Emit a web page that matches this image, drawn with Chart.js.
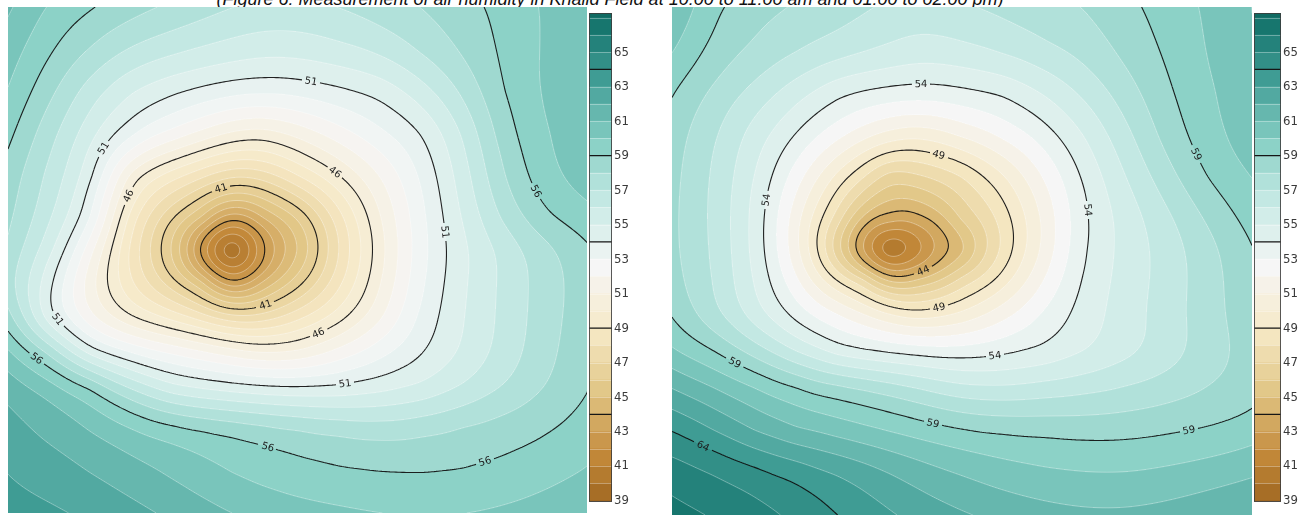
<!DOCTYPE html>
<html>
<head>
<meta charset="utf-8">
<script src="https://cdn.jsdelivr.net/npm/chart.js@4.4.1/dist/chart.umd.min.js"></script>
<style>
  html, body { margin: 0; padding: 0; background: #fff; width: 1311px; height: 515px; overflow: hidden; position: relative; }
  canvas { position: absolute; }
  #title { position: absolute; left: 0; width: 1220px; top: -11px; text-align: center; white-space: nowrap;
           font: italic 18px "Liberation Sans", Arial, sans-serif; line-height: 20px; color: #111; }
</style>
</head>
<body>
<div id="title">(Figure 6: Measurement of air humidity in Khalid Field at 10:00 to 11:00 am and 01:00 to 02:00 pm)</div>
<canvas id="fieldAm" width="579" height="506" style="left:8px;top:7px"></canvas>
<canvas id="barAm" width="52" height="515" style="left:589px;top:0px"></canvas>
<canvas id="fieldPm" width="580" height="508" style="left:672px;top:7px"></canvas>
<canvas id="barPm" width="57" height="515" style="left:1254px;top:0px"></canvas>
<script>
// ---- Morning survey (10:00-11:00): reading positions across the field (m) and relative humidity (%)
const amX = [0, 41, 83, 124, 165, 195, 224, 254, 290, 331, 372, 414, 455, 496, 538, 579];
const amY = [0, 42, 84, 127, 169, 211, 243, 275, 309, 343, 380, 422, 464, 506];
const amHumidity = [
  [58.2, 56.8, 56.1, 55.4, 54.8, 54.4, 54.0, 53.7, 53.7, 54.0, 54.5, 55.0, 55.6, 56.3, 57.1, 58.0],
  [57.5, 56.2, 55.0, 53.9, 53.3, 52.9, 52.6, 52.35, 52.4, 52.8, 53.3, 54.3, 55.2, 56.2, 57.1, 58.0],
  [57.0, 55.3, 53.4, 51.9, 51.1, 50.7, 50.4, 50.3, 50.4, 50.8, 51.2, 52.6, 54.2, 56.1, 57.1, 58.0],
  [56.3, 54.3, 52.3, 50.5, 48.9, 47.8, 46.8, 46.3, 47.3, 48.6, 49.9, 50.9, 53.0, 55.6, 56.8, 57.8],
  [55.5, 53.6, 51.6, 45.8, 44.3, 43.2, 42.1, 42.5, 44.3, 46.0, 48.0, 50.2, 52.5, 55.0, 56.6, 57.5],
  [55.2, 53.1, 50.7, 44.1, 41.1, 38.7, 36.4, 37.9, 40.2, 43.6, 47.0, 49.8, 52.1, 54.3, 56.0, 56.6],
  [54.8, 52.6, 48.25, 43.5, 39.8, 35.6, 32.5, 35.7, 39.1, 43.1, 46.6, 49.7, 51.7, 53.1, 54.5, 55.7],
  [54.3, 51.6, 47.3, 44.1, 41.4, 38.9, 36.3, 38.0, 40.6, 43.8, 47.0, 49.9, 51.9, 53.3, 54.6, 55.6],
  [55.5, 50.5, 48.0, 45.8, 44.3, 43.3, 42.3, 42.4, 43.8, 45.4, 47.6, 50.4, 52.0, 53.3, 54.6, 55.6],
  [57.2, 55.1, 50.85, 49.8, 48.8, 48.1, 47.4, 46.6, 46.8, 48.4, 49.7, 50.9, 52.1, 53.4, 54.7, 55.8],
  [58.5, 57.6, 56.4, 53.8, 51.9, 51.6, 51.3, 51.1, 51.0, 51.0, 51.5, 52.0, 53.0, 54.0, 55.0, 55.9],
  [59.3, 58.6, 57.8, 57.1, 56.5, 56.1, 55.8, 55.5, 55.2, 54.9, 54.6, 54.9, 55.3, 55.6, 55.95, 56.5],
  [59.9, 59.5, 58.9, 58.3, 57.7, 57.2, 56.8, 56.5, 56.2, 56.0, 55.95, 55.9, 55.95, 56.2, 56.6, 57.0],
  [60.5, 60.2, 59.8, 59.3, 58.8, 58.4, 58.0, 57.7, 57.4, 57.2, 57.0, 56.9, 57.0, 57.2, 57.5, 58.0]
];
const amContours = [36, 41, 46, 51, 56];

// ---- Afternoon survey (13:00-14:00)
const pmX = [0, 41, 83, 124, 166, 192, 218, 246, 290, 331, 373, 414, 456, 497, 538, 580];
const pmY = [0, 42, 85, 127, 169, 212, 243, 273, 308, 343, 381, 423, 465, 508];
const pmHumidity = [
  [61.0, 59.1, 58.3, 57.9, 57.4, 57.1, 56.8, 56.5, 56.9, 57.2, 57.6, 58.0, 58.8, 59.4, 60.2, 61.0],
  [60.2, 58.7, 57.9, 57.2, 56.6, 56.2, 55.9, 55.5, 55.8, 56.3, 56.9, 57.4, 58.4, 59.2, 60.1, 61.0],
  [59.0, 57.8, 56.7, 55.4, 54.05, 53.85, 53.7, 53.6, 53.8, 53.97, 55.1, 56.3, 57.6, 58.9, 59.8, 60.8],
  [58.5, 57.2, 55.5, 54.0, 52.5, 51.6, 50.9, 50.3, 51.5, 52.5, 53.6, 55.1, 56.8, 58.5, 59.6, 60.6],
  [58.3, 56.9, 55.0, 52.5, 49.6, 48.1, 46.7, 46.9, 48.1, 49.8, 52.2, 54.3, 56.1, 57.7, 59.2, 60.0],
  [58.2, 56.8, 54.7, 51.4, 47.4, 44.7, 43.4, 43.6, 46.1, 48.5, 51.3, 54.0, 55.4, 56.8, 58.2, 59.4],
  [58.2, 56.9, 54.7, 51.4, 46.4, 43.0, 40.5, 41.8, 44.9, 48.3, 51.3, 54.1, 55.4, 56.5, 57.7, 58.9],
  [58.4, 57.1, 55.0, 52.4, 49.0, 47.0, 44.8, 45.1, 47.3, 49.5, 52.1, 54.3, 55.4, 56.5, 57.6, 58.8],
  [58.9, 57.2, 55.3, 53.6, 52.2, 51.3, 50.4, 49.4, 50.2, 51.8, 53.4, 54.6, 55.7, 56.7, 57.7, 58.7],
  [60.0, 59.1, 57.5, 55.7, 53.98, 53.8, 53.6, 53.5, 53.4, 53.7, 54.0, 54.8, 55.6, 56.4, 57.6, 58.4],
  [62.0, 61.1, 60.2, 59.4, 58.6, 58.1, 57.6, 57.1, 56.2, 56.1, 56.5, 56.8, 57.2, 57.6, 58.1, 58.5],
  [64.0, 62.9, 61.7, 60.8, 60.4, 60.1, 59.8, 59.5, 59.1, 58.9, 58.8, 58.65, 58.7, 58.9, 59.1, 59.5],
  [65.6, 65.0, 64.4, 63.8, 63.0, 62.5, 62.0, 61.5, 60.9, 60.4, 60.1, 60.0, 60.0, 60.2, 60.5, 60.9],
  [66.2, 65.9, 65.3, 64.7, 63.9, 63.5, 63.1, 62.6, 62.1, 61.7, 61.4, 61.2, 61.2, 61.4, 61.7, 62.0]
];
const pmContours = [44, 49, 54, 59, 64];

// ---- Shared colour key
const keyMin = 38.92, keyMax = 67.27;
const keyTicks = [39, 41, 43, 45, 47, 49, 51, 53, 55, 57, 59, 61, 63, 65];
const keyContours = [44, 49, 54, 59, 64];
</script>
<script>
// Where the contour values are written (field metres), one entry per label
const amLabelSpots = [[41,213,181],[41,257,296],[46,328,163],[46,109,183],[46,310,325],
  [51,302,78],[51,99,143],[51,432,225],[51,39,321],[51,337,380],
  [56,517,190],[56,34,345],[56,259,443],[56,477,455]];
const pmLabelSpots = [[44,253,268],[49,263,158],[49,268,305],[54,248,75],[54,98,193],[54,410,203],[54,323,351],
  [59,516,151],[59,68,345],[59,261,418],[59,518,425],[64,33,433]];

// Position of a humidity value on the colour key for each map
const amShade = v => (v < 51 ? 54 + (v - 51) * 0.75 : v + 3);
const pmShade = v => v;
// Surface smoothing for the spline fit; readings in the dry core are kept almost exact
const splineSmoothing = 0.2, coreSpan = 8, coreSmoothing = 0.004;

// Brown-to-teal diverging ramp
const RAMP = [[84,48,5],[140,81,10],[191,129,45],[223,194,125],[246,232,195],[245,245,245],
              [199,234,229],[128,205,193],[53,151,143],[1,102,94],[0,60,48]];
function ramp(t) {
  t = Math.max(0, Math.min(1, t));
  const f = t * 10, i = Math.min(9, Math.floor(f)), u = f - i;
  const a = RAMP[i], b = RAMP[i + 1];
  return [0, 1, 2].map(c => Math.round(a[c] + (b[c] - a[c]) * u + (255 - (a[c] + (b[c] - a[c]) * u)) * 0.06));
}
const keyColour = k => ramp(0.1 + 0.8 * (k - 38) / 29);
const css = c => `rgb(${c[0]},${c[1]},${c[2]})`;

// Smoothing thin-plate spline through the readings
function thinPlate(xs, ys, values) {
  const S = 100, px = [], py = [], pv = [];
  ys.forEach((y, j) => xs.forEach((x, i) => { px.push(x / S); py.push(y / S); pv.push(values[j][i]); }));
  const n = px.length, m = n + 3;
  const driest = Math.min(...pv);
  const phi = r2 => (r2 > 0 ? 0.5 * r2 * Math.log(r2) : 0);
  const A = [];
  for (let i = 0; i < m; i++) A.push(new Float64Array(m + 1));
  for (let i = 0; i < n; i++) {
    for (let j = 0; j < n; j++) A[i][j] = phi((px[i] - px[j]) ** 2 + (py[i] - py[j]) ** 2);
    A[i][i] += pv[i] < driest + coreSpan ? coreSmoothing : splineSmoothing;
    A[i][n] = 1; A[i][n + 1] = px[i]; A[i][n + 2] = py[i]; A[i][m] = pv[i];
    A[n][i] = 1; A[n + 1][i] = px[i]; A[n + 2][i] = py[i];
  }
  for (let c = 0; c < m; c++) {
    let p = c;
    for (let r = c + 1; r < m; r++) if (Math.abs(A[r][c]) > Math.abs(A[p][c])) p = r;
    [A[c], A[p]] = [A[p], A[c]];
    const piv = A[c][c];
    for (let r = c + 1; r < m; r++) {
      const f = A[r][c] / piv;
      if (f === 0) continue;
      const Ar = A[r], Ac = A[c];
      for (let k = c; k <= m; k++) Ar[k] -= f * Ac[k];
    }
  }
  const sol = new Float64Array(m);
  for (let r = m - 1; r >= 0; r--) {
    let s = A[r][m];
    for (let k = r + 1; k < m; k++) s -= A[r][k] * sol[k];
    sol[r] = s / A[r][r];
  }
  return (x, y) => {
    x /= S; y /= S;
    let s = sol[n] + sol[n + 1] * x + sol[n + 2] * y;
    for (let i = 0; i < n; i++) {
      const r2 = (x - px[i]) ** 2 + (y - py[i]) ** 2;
      if (r2 > 0) s += sol[i] * 0.5 * r2 * Math.log(r2);
    }
    return s;
  };
}

// Marching squares on a sampled grid
function traceLevel(F, nx, ny, lv) {
  const segs = [];
  for (let j = 0; j < ny - 1; j++) {
    for (let i = 0; i < nx - 1; i++) {
      const a = F[j * nx + i], b = F[j * nx + i + 1], c = F[(j + 1) * nx + i + 1], d = F[(j + 1) * nx + i];
      const k = (a > lv ? 8 : 0) | (b > lv ? 4 : 0) | (c > lv ? 2 : 0) | (d > lv ? 1 : 0);
      if (k === 0 || k === 15) continue;
      const T = () => [i + (lv - a) / (b - a), j];
      const R = () => [i + 1, j + (lv - b) / (c - b)];
      const B = () => [i + (lv - d) / (c - d), j + 1];
      const L = () => [i, j + (lv - a) / (d - a)];
      const ctr = (a + b + c + d) / 4 > lv;
      switch (k) {
        case 1: case 14: segs.push([L(), B()]); break;
        case 2: case 13: segs.push([B(), R()]); break;
        case 3: case 12: segs.push([L(), R()]); break;
        case 4: case 11: segs.push([T(), R()]); break;
        case 6: case 9: segs.push([T(), B()]); break;
        case 7: case 8: segs.push([L(), T()]); break;
        case 5: if (ctr) { segs.push([L(), T()]); segs.push([B(), R()]); } else { segs.push([T(), R()]); segs.push([L(), B()]); } break;
        case 10: if (ctr) { segs.push([T(), R()]); segs.push([L(), B()]); } else { segs.push([L(), T()]); segs.push([B(), R()]); } break;
      }
    }
  }
  return segs;
}

function humidityMap(p) {
  const step = 2;
  let grid = null;
  function sample(chart) {
    if (grid) return grid;
    const { chartArea: ca, scales: { x: sx, y: sy } } = chart;
    const W = ca.right - ca.left, H = ca.bottom - ca.top;
    const nx = Math.ceil(W / step) + 1, ny = Math.ceil(H / step) + 1;
    const F = new Float32Array(nx * ny);
    let lo = Infinity, hi = -Infinity;
    for (let j = 0; j < ny; j++) {
      const dy = sy.getValueForPixel(ca.top + j * step);
      for (let i = 0; i < nx; i++) {
        const v = p.surface(sx.getValueForPixel(ca.left + i * step), dy);
        F[j * nx + i] = v; lo = Math.min(lo, v); hi = Math.max(hi, v);
      }
    }
    grid = { F, nx, ny, W, H, lo, hi };
    return grid;
  }
  const bandCache = {};
  const bandColour = b => bandCache[b] || (bandCache[b] = keyColour(p.shade(b + 0.5)));
  return {
    id: 'humidityMap',
    beforeDatasetsDraw(chart) {
      const { ctx, chartArea: ca } = chart;
      const { F, nx, W, H } = sample(chart);
      const Wp = Math.round(W), Hp = Math.round(H);
      const img = ctx.createImageData(Wp, Hp);
      const d = img.data;
      for (let py = 0; py < Hp; py++) {
        const fy = (py + 0.5) / step, j = Math.floor(fy), v = fy - j;
        for (let px = 0; px < Wp; px++) {
          const fx = (px + 0.5) / step, i = Math.floor(fx), u = fx - i;
          const o0 = j * nx + i, o1 = o0 + nx;
          const val = (F[o0] * (1 - u) + F[o0 + 1] * u) * (1 - v) + (F[o1] * (1 - u) + F[o1 + 1] * u) * v;
          const c = bandColour(Math.floor(val));
          const o = (py * Wp + px) * 4;
          d[o] = c[0]; d[o + 1] = c[1]; d[o + 2] = c[2]; d[o + 3] = 255;
        }
      }
      ctx.putImageData(img, ca.left, ca.top);
    },
    afterDatasetsDraw(chart) {
      const { ctx, chartArea: ca, scales: { x: sx, y: sy } } = chart;
      const { F, nx, ny, W, H, lo, hi } = sample(chart);
      const toPx = q => [ca.left + q[0] * step, ca.top + q[1] * step];
      ctx.save();
      ctx.beginPath();
      ctx.rect(ca.left, ca.top, W, H);
      ctx.clip();
      // thin seams between shading steps
      ctx.lineWidth = 0.8;
      ctx.strokeStyle = 'rgba(255,255,255,0.42)';
      ctx.beginPath();
      for (let lv = Math.ceil(lo); lv <= Math.floor(hi); lv++) {
        if (p.majors.includes(lv)) continue;
        for (const s of traceLevel(F, nx, ny, lv)) {
          const a = toPx(s[0]), b = toPx(s[1]);
          ctx.moveTo(a[0], a[1]); ctx.lineTo(b[0], b[1]);
        }
      }
      ctx.stroke();
      // labelled contours
      ctx.font = '10px "DejaVu Sans", sans-serif';
      ctx.textAlign = 'center';
      ctx.textBaseline = 'middle';
      for (const lv of p.majors) {
        const segs = traceLevel(F, nx, ny, lv).map(s => [toPx(s[0]), toPx(s[1])]);
        const mids = segs.map(s => [(s[0][0] + s[1][0]) / 2, (s[0][1] + s[1][1]) / 2]);
        const labels = [];
        for (const sp of p.spots) {
          if (sp[0] !== lv) continue;
          const tx = sx.getPixelForValue(sp[1]), ty = sy.getPixelForValue(sp[2]);
          let best = -1, bd = 1e9;
          mids.forEach((m, k) => { const dd = (m[0] - tx) ** 2 + (m[1] - ty) ** 2; if (dd < bd) { bd = dd; best = k; } });
          if (best < 0 || bd > 45 * 45) continue;
          const c = mids[best];
          let vx = 0, vy = 0;
          const ref = [segs[best][1][0] - segs[best][0][0], segs[best][1][1] - segs[best][0][1]];
          segs.forEach((s, k) => {
            if ((mids[k][0] - c[0]) ** 2 + (mids[k][1] - c[1]) ** 2 > 81) return;
            let ux = s[1][0] - s[0][0], uy = s[1][1] - s[0][1];
            if (ux * ref[0] + uy * ref[1] < 0) { ux = -ux; uy = -uy; }
            vx += ux; vy += uy;
          });
          let ang = Math.atan2(vy, vx);
          if (ang > Math.PI / 2) ang -= Math.PI;
          if (ang < -Math.PI / 2) ang += Math.PI;
          const text = String(lv);
          labels.push({ x: c[0], y: c[1], ang, text, r: ctx.measureText(text).width / 2 + 3 });
        }
        ctx.strokeStyle = 'rgba(15,15,15,0.92)';
        ctx.lineWidth = 1.1;
        ctx.beginPath();
        segs.forEach((s, k) => {
          for (const L of labels) if ((mids[k][0] - L.x) ** 2 + (mids[k][1] - L.y) ** 2 < L.r * L.r) return;
          ctx.moveTo(s[0][0], s[0][1]); ctx.lineTo(s[1][0], s[1][1]);
        });
        ctx.stroke();
        ctx.fillStyle = '#1c1c1c';
        for (const L of labels) {
          ctx.save();
          ctx.translate(L.x, L.y);
          ctx.rotate(L.ang);
          ctx.fillText(L.text, 0, 0.5);
          ctx.restore();
        }
      }
      ctx.restore();
    }
  };
}

function fieldChart(id, xs, ys, values, shade, majors, spots) {
  const pts = [];
  ys.forEach((y, j) => xs.forEach((x, i) => pts.push({ x, y, rh: values[j][i] })));
  const surface = thinPlate(xs, ys, values);
  return new Chart(document.getElementById(id), {
    type: 'scatter',
    data: { datasets: [{ label: 'Relative humidity (%)', data: pts, pointRadius: 0, pointHoverRadius: 0 }] },
    options: {
      responsive: false, animation: false, events: [],
      layout: { padding: 0 },
      plugins: { legend: { display: false }, tooltip: { enabled: false } },
      scales: {
        x: { type: 'linear', min: 0, max: xs[xs.length - 1], display: false },
        y: { type: 'linear', min: 0, max: ys[ys.length - 1], reverse: true, display: false }
      }
    },
    plugins: [humidityMap({ surface, shade, majors, spots })]
  });
}

const keyFrame = {
  id: 'keyFrame',
  afterDatasetsDraw(chart) {
    const { ctx, chartArea: ca, scales: { y } } = chart;
    ctx.save();
    ctx.lineWidth = 0.8;
    ctx.strokeStyle = 'rgba(255,255,255,0.42)';
    ctx.beginPath();
    for (let v = Math.ceil(keyMin); v < keyMax; v++) {
      if (keyContours.includes(v)) continue;
      const py = Math.round(y.getPixelForValue(v)) + 0.5;
      ctx.moveTo(ca.left, py); ctx.lineTo(ca.right, py);
    }
    ctx.stroke();
    ctx.lineWidth = 1.4;
    ctx.strokeStyle = '#151515';
    ctx.beginPath();
    for (const v of keyContours) {
      const py = y.getPixelForValue(v);
      ctx.moveTo(ca.left, py); ctx.lineTo(ca.right, py);
    }
    ctx.stroke();
    ctx.lineWidth = 1;
    ctx.strokeStyle = 'rgba(60,60,60,0.85)';
    ctx.strokeRect(ca.left + 0.5, ca.top + 0.5, ca.right - ca.left - 1, ca.bottom - ca.top - 1);
    ctx.restore();
  }
};

function keyChart(id, axisWidth) {
  const datasets = [];
  for (let v = Math.floor(keyMin); v < keyMax; v++) {
    datasets.push({ data: [[Math.max(v, keyMin), Math.min(v + 1, keyMax)]], backgroundColor: css(keyColour(v + 0.5)),
                    borderWidth: 0, grouped: false, barPercentage: 1, categoryPercentage: 1 });
  }
  return new Chart(document.getElementById(id), {
    type: 'bar',
    data: { labels: ['RH'], datasets },
    options: {
      responsive: false, animation: false, events: [],
      layout: { padding: { top: 13, bottom: 13, left: 0, right: 0 } },
      plugins: { legend: { display: false }, tooltip: { enabled: false } },
      scales: {
        x: { display: false },
        y: {
          position: 'right', min: keyMin, max: keyMax,
          afterBuildTicks: s => { s.ticks = keyTicks.map(v => ({ value: v })); },
          afterFit: s => { s.width = axisWidth; },
          grid: { display: false, drawTicks: false },
          border: { display: false },
          ticks: { padding: 2, autoSkip: false, color: '#3a3a3a',
                   font: { family: '"DejaVu Sans Condensed", "DejaVu Sans", sans-serif', size: 13 } }
        }
      }
    },
    plugins: [keyFrame]
  });
}

fieldChart('fieldAm', amX, amY, amHumidity, amShade, amContours, amLabelSpots);
keyChart('barAm', 29);
fieldChart('fieldPm', pmX, pmY, pmHumidity, pmShade, pmContours, pmLabelSpots);
keyChart('barPm', 30);
</script>
</body>
</html>
